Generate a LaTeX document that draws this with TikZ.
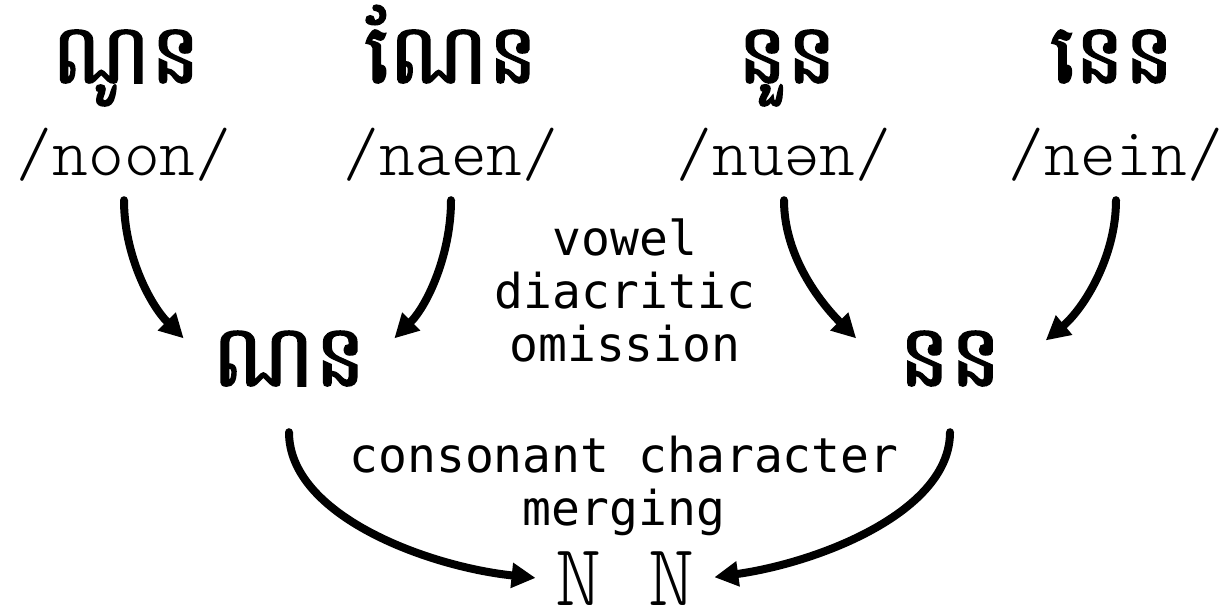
\documentclass[tikz,border=0pt]{standalone}
\usepackage{fontspec}
\usepackage{tikz}
\usetikzlibrary{arrows.meta}

\newfontfamily\khmerfont[Script=Khmer, FakeBold=2]{Battambang}
\newfontfamily\ipafont{lmmonolt10-regular.otf}
\newfontfamily\notefont{DejaVu Sans Mono}

\begin{document}
\begin{tikzpicture}[x=1pt, y=1pt,
        khmer/.style={font=\khmerfont\fontsize{83}{83}\selectfont,
            inner sep=0pt, anchor=base, text height=50pt, text depth=0pt, align=center},
        ipa/.style={font=\ipafont\fontsize{68}{68}\selectfont,
            inner sep=0pt, anchor=base, text depth=0pt},
        note/.style={font=\notefont\fontsize{48}{53}\selectfont, inner sep=0pt, align=center},
        merge/.style={line width=8pt, line cap=round, -{Triangle[length=24pt, width=24pt]}}]
    \useasboundingbox (0, 0) rectangle (1225, -613);

    \node[khmer] (noon) at (126, -83) {ណូន};
    \node[khmer] (naen) at (451, -83) {ណែន};
    \node[khmer] (nuen) at (787, -83) {នួន};
    \node[khmer] (nein) at (1112, -83) {នេន};

    \node[ipa] (noonipa) at (124, -175) {/noon/};
    \node[ipa] (naenipa) at (451, -175) {/naen/};
    \node[ipa] (nuenipa) at (784, -175) {/nuən/};
    \node[ipa] (neinipa) at (1116, -175) {/nein/};

    \node[khmer, text width=165pt, font=\khmerfont\fontsize{86}{86}\selectfont] (na) at (289, -386) {ណន};
    \node[khmer, text width=142pt, font=\khmerfont\fontsize{86}{86}\selectfont] (nn) at (950, -386) {នន};
    \node[ipa, font=\ipafont\fontsize{88}{88}\selectfont, text height=50pt] (latin) at (625, -605) {N N};

    \node[note] (omit) at (625, -290.5) {vowel\\diacritic\\omission};
    \node[note] (merging) at (624, -486) {consonant character\\merging};

    \draw[merge, shorten <=25pt, shorten >=32pt] (noonipa.south) to[out=-90, in=135] (na.west);
    \draw[merge, shorten <=25pt, shorten >=32pt] (naenipa.south) to[out=-90, in=45] (na.east);
    \draw[merge, shorten <=25pt, shorten >=32pt] (nuenipa.south) to[out=-90, in=135] (nn.west);
    \draw[merge, shorten <=25pt, shorten >=32pt] (neinipa.south) to[out=-90, in=40] (nn.east);

    \draw[merge, shorten <=46pt, shorten >=20pt] (na.south) to[out=-90, in=174] (latin.west);
    \draw[merge, shorten <=46pt, shorten >=20pt] (nn.south) to[out=-90, in=8] (latin.east);
\end{tikzpicture}
\end{document}
